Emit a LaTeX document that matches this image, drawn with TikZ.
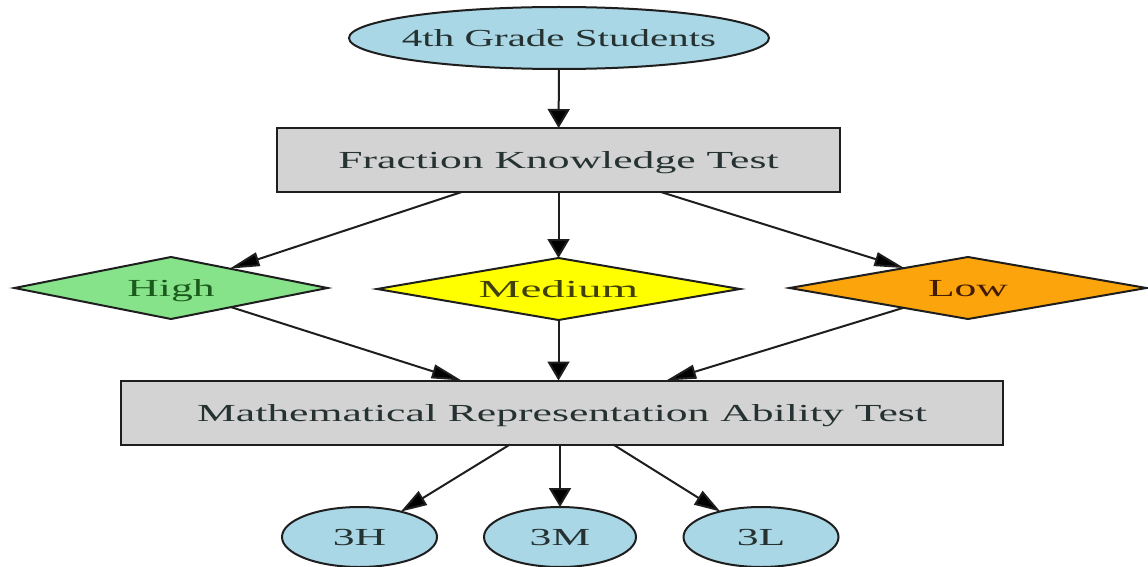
\documentclass[tikz,border=0pt]{standalone}
\usepackage{fontspec}
\setmainfont{Liberation Serif}[FakeStretch=1.78]
\usetikzlibrary{shapes.geometric,arrows.meta}

\definecolor{edgeink}{HTML}{1E1E1E}
\definecolor{labelink}{HTML}{263232}
\definecolor{ovalfill}{HTML}{A9D7E6}
\definecolor{boxfill}{HTML}{D3D3D3}
\definecolor{highfill}{HTML}{86E38A}
\definecolor{highink}{HTML}{1A5A1A}
\definecolor{mediumfill}{HTML}{FFFF00}
\definecolor{mediumink}{HTML}{40400C}
\definecolor{lowfill}{HTML}{FCA40C}
\definecolor{lowink}{HTML}{421C00}

\tikzset{
  base/.style={draw=edgeink, line width=2pt, inner sep=0pt, outer sep=0pt,
    font=\fontsize{24.5}{29}\selectfont, text=labelink, text depth=0pt},
  oval/.style={base, ellipse, fill=ovalfill},
  testbox/.style={base, rectangle, fill=boxfill, minimum height=64pt},
  groupdiamond/.style={base, diamond, aspect=5, minimum height=62pt},
  flow/.style={draw=edgeink, line width=2pt},
  flowdown/.style={flow, -{Triangle[length=19pt,width=22pt,fill=black]}},
  flowside/.style={flow, -{Triangle[length=30pt,width=14pt,fill=black]}},
  flowsteep/.style={flow, -{Triangle[length=26pt,width=16pt,fill=black]}}
}

\begin{document}
\begin{tikzpicture}[x=1pt, y=-1pt]
  \useasboundingbox (0,0) rectangle (1148,567);

  % start and test stages
  \node[oval, minimum width=420pt, minimum height=62pt] (students) at (559,38)
    {\makebox[0pt]{\scalebox{0.94}[1]{4th Grade Students}}};
  \node[testbox, minimum width=563pt] (fkt) at (558.5,160)
    {Fraction Knowledge Test};

  % knowledge levels
  \node[groupdiamond, fill=highfill, text=highink, minimum width=313pt]
    (high) at (171,288) {High};
  \node[groupdiamond, fill=mediumfill, text=mediumink, minimum width=363pt]
    (medium) at (558.5,289) {\scalebox{1.08}[1]{Medium}};
  \node[groupdiamond, fill=lowfill, text=lowink, minimum width=357pt]
    (low) at (968,288) {Low};

  % second test
  \node[testbox, minimum width=882pt] (mrat) at (562,412.5)
    {Mathematical Representation Ability Test};

  % result groups
  \node[oval, minimum width=155pt, minimum height=60pt] (g3h) at (359.5,537) {3H};
  \node[oval, minimum width=152pt, minimum height=60pt] (g3m) at (560,537) {3M};
  \node[oval, minimum width=155pt, minimum height=60pt] (g3l) at (761,537) {3L};

  % connectors
  \draw[flowdown] (students) -- (fkt);
  \draw[flowside] (fkt) -- (high);
  \draw[flowdown] (fkt) -- (medium);
  \draw[flowside] (fkt) -- (low);
  \draw[flowside] (high) -- (mrat);
  \draw[flowdown] (medium.south) -- (medium.south |- mrat.north);
  \draw[flowside] (low) -- (mrat);
  \draw[flowsteep] (mrat) -- (g3h);
  \draw[flowdown] (g3m.north |- mrat.south) -- (g3m);
  \draw[flowsteep] (mrat) -- (g3l);
\end{tikzpicture}
\end{document}
